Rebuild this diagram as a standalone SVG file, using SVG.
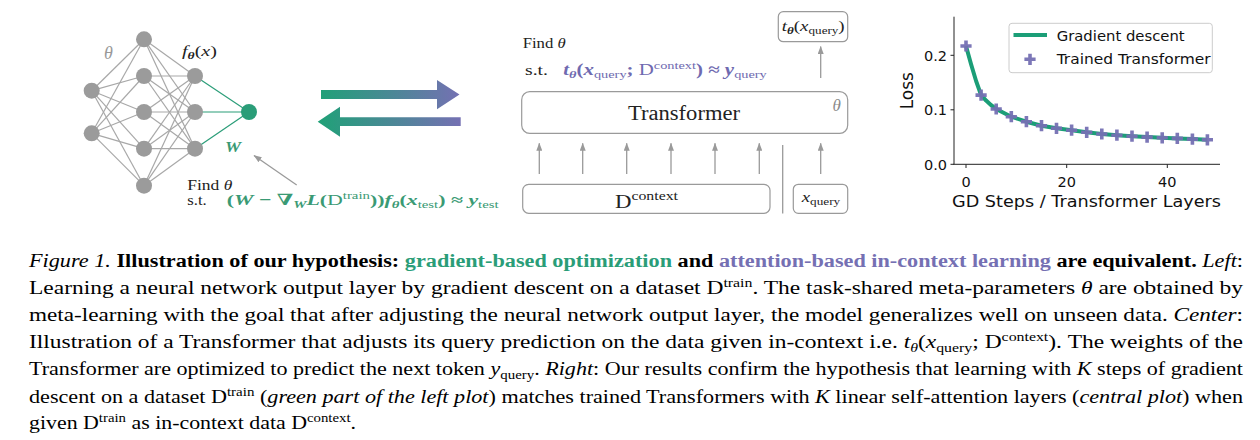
<svg xmlns="http://www.w3.org/2000/svg" width="1260" height="440" viewBox="0 0 1260 440">
<style>
.bg{fill:#fff}
.nn{stroke:#a8a8a8;stroke-width:1.2}
.ng{stroke:#2a9d78;stroke-width:1.2}
.node{fill:#9b9b9b}
.onode{fill:#2a9d78}
.m{font-family:"Liberation Serif","DejaVu Serif",serif;fill:#222}
.g{fill:#3a9a74}
.p{fill:#6f6ab0}
.box{fill:#fff;stroke:#9a9a9a;stroke-width:1.2}
.ga{stroke:#9a9a9a;stroke-width:1.3;fill:none}
.cap{font-family:"Liberation Serif","Times New Roman",serif;font-size:18.5px;fill:#000}
.pl{font-family:"DejaVu Sans",sans-serif;fill:#111}
.b{font-weight:bold}
.i{font-style:italic}
.n{font-weight:normal}
</style>
<defs>
<marker id="ah" markerWidth="8" markerHeight="6" refX="7.5" refY="3" orient="auto" markerUnits="userSpaceOnUse">
<path d="M0,0 L8,3 L0,6 z" fill="#9a9a9a"/>
</marker>
<linearGradient id="gr" gradientUnits="userSpaceOnUse" x1="318" y1="0" x2="461" y2="0">
<stop offset="0" stop-color="#1fa177"/>
<stop offset="1" stop-color="#7570b3"/>
</linearGradient>
<path id="plus" d="M-5.6,0 H5.6 M0,-5.6 V5.6" stroke="#7570b3" stroke-width="3.6" fill="none" opacity="0.95"/>
</defs>
<rect class="bg" x="0" y="0" width="1260" height="440"/>

<!-- connectors -->
<g id="connectors">
<g class="nn">
<line x1="91.7" y1="90.7" x2="144" y2="39.3"/><line x1="91.7" y1="90.7" x2="144" y2="76"/><line x1="91.7" y1="90.7" x2="144" y2="112"/><line x1="91.7" y1="90.7" x2="144" y2="148.7"/><line x1="91.7" y1="90.7" x2="144" y2="185.7"/>
<line x1="91.7" y1="133.3" x2="144" y2="39.3"/><line x1="91.7" y1="133.3" x2="144" y2="76"/><line x1="91.7" y1="133.3" x2="144" y2="112"/><line x1="91.7" y1="133.3" x2="144" y2="148.7"/><line x1="91.7" y1="133.3" x2="144" y2="185.7"/>
<line x1="144" y1="39.3" x2="195" y2="76"/><line x1="144" y1="39.3" x2="195" y2="112"/><line x1="144" y1="39.3" x2="195" y2="148.7"/>
<line x1="144" y1="76" x2="195" y2="76"/><line x1="144" y1="76" x2="195" y2="112"/><line x1="144" y1="76" x2="195" y2="148.7"/>
<line x1="144" y1="112" x2="195" y2="76"/><line x1="144" y1="112" x2="195" y2="112"/><line x1="144" y1="112" x2="195" y2="148.7"/>
<line x1="144" y1="148.7" x2="195" y2="76"/><line x1="144" y1="148.7" x2="195" y2="112"/><line x1="144" y1="148.7" x2="195" y2="148.7"/>
<line x1="144" y1="185.7" x2="195" y2="76"/><line x1="144" y1="185.7" x2="195" y2="112"/><line x1="144" y1="185.7" x2="195" y2="148.7"/>
</g>
<g class="ng">
<line x1="195" y1="76" x2="249" y2="112"/><line x1="195" y1="112" x2="249" y2="112"/><line x1="195" y1="148.7" x2="249" y2="112"/>
</g>
<line class="ga" x1="296.7" y1="185" x2="254" y2="155.5" marker-end="url(#ah)"/>
<!-- big arrows -->
<path d="M321,90 H437 V80 L459.5,94.5 L437,109.3 V99 H321 z" fill="url(#gr)"/>
<path d="M460.7,117.3 H340 V106.7 L317.7,121.7 L340,136.7 V126 H460.7 z" fill="url(#gr)"/>
<!-- center arrows -->
<g class="ga" marker-end="url(#ah)">
<line x1="539.3" y1="174" x2="539.3" y2="143.3"/>
<line x1="582.7" y1="174" x2="582.7" y2="143.3"/>
<line x1="626.7" y1="174" x2="626.7" y2="143.3"/>
<line x1="671" y1="174" x2="671" y2="143.3"/>
<line x1="715" y1="174" x2="715" y2="143.3"/>
<line x1="759.3" y1="174" x2="759.3" y2="143.3"/>
<line x1="820.7" y1="174" x2="820.7" y2="143.3"/>
<line x1="820.7" y1="78" x2="820.7" y2="46.5"/>
</g>
<line class="ga" x1="782.7" y1="145" x2="782.7" y2="213.5"/>
</g>

<!-- network nodes -->
<g id="input-layer">
<circle class="node" cx="91.7" cy="90.7" r="8"/>
<circle class="node" cx="91.7" cy="133.3" r="8"/>
</g>
<g id="hidden-layer-1">
<circle class="node" cx="144" cy="39.3" r="8"/>
<circle class="node" cx="144" cy="76" r="8"/>
<circle class="node" cx="144" cy="112" r="8"/>
<circle class="node" cx="144" cy="148.7" r="8"/>
<circle class="node" cx="144" cy="185.7" r="8"/>
</g>
<g id="hidden-layer-2">
<circle class="node" cx="195" cy="76" r="8"/>
<circle class="node" cx="195" cy="112" r="8"/>
<circle class="node" cx="195" cy="148.7" r="8"/>
</g>
<g id="output-node">
<circle class="onode" cx="249" cy="112" r="8"/>
</g>
<g id="net-labels">
<text class="m i" x="104" y="59" font-size="18" style="fill:#999">θ</text>
<text class="m" x="182" y="56" font-size="15.5" textLength="35" lengthAdjust="spacingAndGlyphs"><tspan class="i">f</tspan><tspan class="b i" font-size="10.5" dy="3">θ</tspan><tspan dy="-3">(</tspan><tspan class="i">x</tspan>)</text>
<text class="m b i g" x="225" y="152" font-size="15.5" textLength="16" lengthAdjust="spacingAndGlyphs">W</text>
</g>
<g id="left-objective">
<text class="m" x="187.3" y="189.5" font-size="15" textLength="45" lengthAdjust="spacingAndGlyphs">Find <tspan class="i">θ</tspan></text>
<text class="m" x="187.3" y="205" font-size="15" textLength="19.5" lengthAdjust="spacingAndGlyphs">s.t.</text>
<text class="m b g" x="226.7" y="205" font-size="15.5" textLength="272" lengthAdjust="spacingAndGlyphs">(<tspan class="i">W</tspan> − ∇<tspan class="i" font-size="10.5" dy="3">W</tspan><tspan class="i" dy="-3">L</tspan>(<tspan class="n">D</tspan><tspan class="n" font-size="10.5" dy="-6">train</tspan><tspan dy="6">))</tspan><tspan class="i">f</tspan><tspan class="i" font-size="10.5" dy="3">θ</tspan><tspan dy="-3">(</tspan><tspan class="i">x</tspan><tspan class="n" font-size="10.5" dy="3">test</tspan><tspan dy="-3">) ≈ </tspan><tspan class="i">y</tspan><tspan class="n" font-size="10.5" dy="3">test</tspan></text>
</g>

<!-- center -->
<g id="output-box">
<rect class="box" x="778.3" y="11.7" width="69.4" height="30" rx="5"/>
<text class="m" x="781.7" y="30.5" font-size="14.5" textLength="63" lengthAdjust="spacingAndGlyphs"><tspan class="i">t</tspan><tspan class="b i" font-size="10" dy="3">θ</tspan><tspan dy="-3">(</tspan><tspan class="i">x</tspan><tspan font-size="10" dy="3">query</tspan><tspan dy="-3">)</tspan></text>
</g>
<g id="center-objective">
<text class="m" x="522.7" y="48.3" font-size="15.5" textLength="43" lengthAdjust="spacingAndGlyphs">Find <tspan class="i">θ</tspan></text>
<text class="m" x="525" y="74.5" font-size="15.5" textLength="23" lengthAdjust="spacingAndGlyphs">s.t.</text>
<text class="m b p" x="563.3" y="74.5" font-size="16" textLength="203.5" lengthAdjust="spacingAndGlyphs"><tspan class="i">t</tspan><tspan class="i" font-size="11" dy="3">θ</tspan><tspan dy="-3">(</tspan><tspan class="i">x</tspan><tspan class="n" font-size="11" dy="3">query</tspan><tspan dy="-3">; </tspan><tspan class="n">D</tspan><tspan class="n" font-size="11" dy="-6">context</tspan><tspan dy="6">) ≈ </tspan><tspan class="i">y</tspan><tspan class="n" font-size="11" dy="3">query</tspan></text>
</g>
<g id="transformer">
<rect class="box" x="521.7" y="91.7" width="326" height="41.6" rx="8"/>
<text class="m" x="628" y="120" font-size="20" textLength="112" lengthAdjust="spacingAndGlyphs">Transformer</text>
<text class="m i" x="832.5" y="111" font-size="17" style="fill:#8a8a8a">θ</text>
</g>
<g id="context-box">
<rect class="box" x="522.7" y="184.3" width="247.3" height="29" rx="6"/>
<text class="m" x="615" y="208" font-size="18" textLength="63" lengthAdjust="spacingAndGlyphs">D<tspan font-size="12.5" dy="-8">context</tspan></text>
</g>
<g id="query-box">
<rect class="box" x="793.3" y="184.3" width="54.4" height="29" rx="5"/>
<text class="m" x="801.7" y="202" font-size="15" textLength="38.5" lengthAdjust="spacingAndGlyphs"><tspan class="i">x</tspan><tspan font-size="10.5" dy="3">query</tspan></text>
</g>

<!-- plot -->
<g id="loss-plot">
<g stroke="#222" stroke-width="1">
<line x1="954" y1="16.7" x2="954" y2="164.3"/>
<line x1="953.5" y1="164.3" x2="1220" y2="164.3"/>
<line x1="950.5" y1="164.3" x2="954" y2="164.3"/>
<line x1="950.5" y1="109.8" x2="954" y2="109.8"/>
<line x1="950.5" y1="55.3" x2="954" y2="55.3"/>
<line x1="966" y1="164.3" x2="966" y2="168"/>
<line x1="1066.7" y1="164.3" x2="1066.7" y2="168"/>
<line x1="1167.3" y1="164.3" x2="1167.3" y2="168"/>
</g>
<g class="pl" font-size="14.5" text-anchor="end">
<text x="947" y="169.7">0.0</text>
<text x="947" y="115.2">0.1</text>
<text x="947" y="60.7">0.2</text>
</g>
<g class="pl" font-size="14.5" text-anchor="middle">
<text x="966" y="186.5">0</text>
<text x="1066.7" y="186.5">20</text>
<text x="1167.3" y="186.5">40</text>
</g>
<text class="pl" x="952" y="207" font-size="16.5" textLength="269" lengthAdjust="spacingAndGlyphs">GD Steps / Transformer Layers</text>
<text class="pl" transform="translate(912.5,90.7) rotate(-90)" text-anchor="middle" font-size="17">Loss</text>
<path d="M966,46 L971,64 L976.1,81 L981.1,95.1 L986.1,100.6 L991.2,105.2 L996.2,109 L1011.3,116.7 L1026.4,121.7 L1041.5,125.7 L1056.5,128.3 L1071.6,130.2 L1086.7,132.3 L1101.8,134 L1116.9,135.2 L1132,136.2 L1147.1,137.1 L1162.2,137.8 L1177.3,138.4 L1192.4,139.1 L1207.4,139.8" fill="none" stroke="#1b9e77" stroke-width="4" stroke-linejoin="round" stroke-linecap="butt"/>
<use href="#plus" x="966" y="46"/>
<use href="#plus" x="981.1" y="95.1"/>
<use href="#plus" x="996.2" y="109"/>
<use href="#plus" x="1011.3" y="116.7"/>
<use href="#plus" x="1026.4" y="121.7"/>
<use href="#plus" x="1041.5" y="125.7"/>
<use href="#plus" x="1056.5" y="128.3"/>
<use href="#plus" x="1071.6" y="130.2"/>
<use href="#plus" x="1086.7" y="132.3"/>
<use href="#plus" x="1101.8" y="134"/>
<use href="#plus" x="1116.9" y="135.2"/>
<use href="#plus" x="1132" y="136.2"/>
<use href="#plus" x="1147.1" y="137.1"/>
<use href="#plus" x="1162.2" y="137.8"/>
<use href="#plus" x="1177.3" y="138.4"/>
<use href="#plus" x="1192.4" y="139.1"/>
<use href="#plus" x="1207.4" y="139.8"/>
<g id="legend">
<rect x="1009" y="23.3" width="203.3" height="49.4" rx="3" fill="#fff" fill-opacity="0.85" stroke="#cccccc" stroke-width="1"/>
<line x1="1013.5" y1="35" x2="1047" y2="35" stroke="#1b9e77" stroke-width="4"/>
<use href="#plus" x="1030" y="59.3"/>
<text class="pl" x="1056.7" y="41" font-size="14.5" textLength="128" lengthAdjust="spacingAndGlyphs">Gradient descent</text>
<text class="pl" x="1056.7" y="63.5" font-size="14.5" textLength="154" lengthAdjust="spacingAndGlyphs">Trained Transformer</text>
</g>
</g>

<!-- caption -->
<g id="caption" class="cap">
<text x="29" y="267" textLength="1214" lengthAdjust="spacingAndGlyphs"><tspan class="i">Figure 1.</tspan><tspan class="b"> Illustration of our hypothesis: </tspan><tspan class="b" fill="#2a9d78">gradient-based optimization</tspan><tspan class="b"> and </tspan><tspan class="b" fill="#7570b3">attention-based in-context learning</tspan><tspan class="b"> are equivalent. </tspan><tspan class="i">Left</tspan>:</text>
<text x="29" y="294" textLength="1214" lengthAdjust="spacingAndGlyphs">Learning a neural network output layer by gradient descent on a dataset D<tspan font-size="12.5" dy="-7">train</tspan><tspan dy="7">.  The task-shared meta-parameters </tspan><tspan class="i">θ</tspan> are obtained by</text>
<text x="29" y="320.5" textLength="1214" lengthAdjust="spacingAndGlyphs">meta-learning with the goal that after adjusting the neural network output layer, the model generalizes well on unseen data. <tspan class="i">Center</tspan>:</text>
<text x="29" y="348" textLength="1214" lengthAdjust="spacingAndGlyphs">Illustration of a Transformer that adjusts its query prediction on the data given in-context i.e. <tspan class="i">t</tspan><tspan class="i" font-size="12.5" dy="4">θ</tspan><tspan dy="-4">(</tspan><tspan class="i">x</tspan><tspan font-size="12.5" dy="4">query</tspan><tspan dy="-4">; D</tspan><tspan font-size="12.5" dy="-7">context</tspan><tspan dy="7">).  The weights of the</tspan></text>
<text x="29" y="375" textLength="1214" lengthAdjust="spacingAndGlyphs">Transformer are optimized to predict the next token <tspan class="i">y</tspan><tspan font-size="12.5" dy="4">query</tspan><tspan dy="-4">. </tspan><tspan class="i">Right</tspan>: Our results confirm the hypothesis that learning with <tspan class="i">K</tspan> steps of gradient</text>
<text x="29" y="402.5" textLength="1214" lengthAdjust="spacingAndGlyphs">descent on a dataset D<tspan font-size="12.5" dy="-7">train</tspan><tspan dy="7"> (</tspan><tspan class="i">green part of the left plot</tspan>) matches trained Transformers with <tspan class="i">K</tspan> linear self-attention layers (<tspan class="i">central plot</tspan>) when</text>
<text x="29" y="429" textLength="327" lengthAdjust="spacingAndGlyphs">given D<tspan font-size="12.5" dy="-7">train</tspan><tspan dy="7"> as in-context data D</tspan><tspan font-size="12.5" dy="-7">context</tspan><tspan dy="7">.</tspan></text>
</g>
</svg>
